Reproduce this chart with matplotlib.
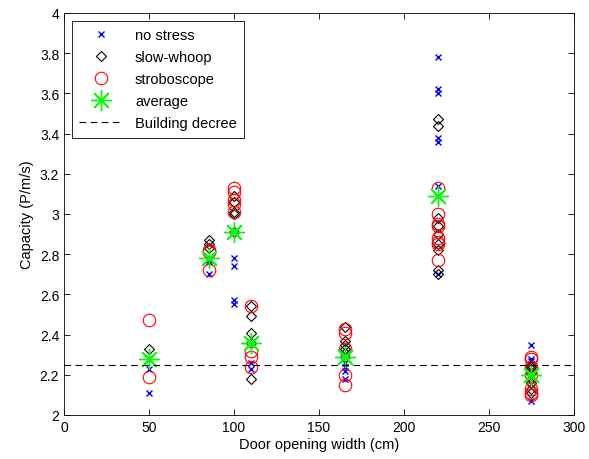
import numpy as np
import matplotlib.pyplot as plt
from matplotlib.ticker import FormatStrFormatter

plt.rcParams['font.family'] = ['Liberation Sans', 'DejaVu Sans']

# door widths (cm)
widths = [50, 85, 100, 110, 165, 220, 275]

# measured capacity (P/m/s) per width, one list per condition
no_stress = [
    [2.23, 2.11],
    [2.77, 2.76, 2.70],
    [2.78, 2.74, 2.57, 2.55],
    [2.26, 2.23],
    [2.26, 2.24, 2.22, 2.18],
    [3.78, 3.62, 3.60, 3.38, 3.36, 3.14, 2.70],
    [2.35, 2.28, 2.27, 2.07],
]
slow_whoop = [
    [2.33],
    [2.87, 2.85, 2.83],
    [3.09, 3.06, 3.01, 3.00, 2.91],
    [2.54, 2.49, 2.41, 2.36, 2.18],
    [2.44, 2.37, 2.35, 2.33, 2.31, 2.29],
    [3.47, 3.44, 2.98, 2.94, 2.90, 2.85, 2.82, 2.72, 2.70],
    [2.25, 2.24, 2.23, 2.21, 2.18, 2.16, 2.13, 2.11],
]
stroboscope = [
    [2.47, 2.19],
    [2.82, 2.81, 2.72],
    [3.13, 3.11, 3.07, 3.05, 3.01],
    [2.54, 2.32, 2.29, 2.24],
    [2.43, 2.41, 2.33, 2.20, 2.15],
    [3.13, 3.00, 2.95, 2.94, 2.88, 2.86, 2.85, 2.77],
    [2.29, 2.28, 2.24, 2.20, 2.13, 2.11, 2.10],
]
average = [2.28, 2.78, 2.91, 2.36, 2.29, 3.09, 2.20]

building_decree = 2.25


def flatten(groups):
    xs = []
    ys = []
    for w, vals in zip(widths, groups):
        for v in vals:
            xs.append(w)
            ys.append(v)
    return np.array(xs), np.array(ys)


fig = plt.figure(figsize=(5.89, 4.60), dpi=100)
ax = fig.add_axes([0.1087, 0.0957, 0.8658, 0.874])

x1, y1 = flatten(no_stress)
ax.plot(x1, y1, 'x', color='blue', markersize=4, markeredgewidth=1.0, label='no stress')

x2, y2 = flatten(slow_whoop)
ax.plot(x2, y2, 'D', color='black', markerfacecolor='none', markersize=5.5,
        markeredgewidth=0.8, label='slow-whoop')

x3, y3 = flatten(stroboscope)
ax.plot(x3, y3, 'o', color='red', markerfacecolor='none', markersize=9,
        markeredgewidth=0.8, label='stroboscope')

ax.plot(widths, average, linestyle='none', marker=(8, 2, 0), color='#00ff00',
        markersize=15, markeredgewidth=1.0, label='average')

ax.axhline(building_decree, color='black', linestyle=(0, (6, 4)), linewidth=0.8,
           label='Building decree')

ax.set_xlim(0, 300)
ax.set_ylim(2, 4)
ax.set_xticks(np.arange(0, 301, 50))
ax.set_yticks(np.arange(2, 4.01, 0.2))
ax.yaxis.set_major_formatter(FormatStrFormatter('%g'))
ax.tick_params(direction='in', top=True, right=True, labelsize=10, length=4, width=0.6)
for s in ax.spines.values():
    s.set_linewidth(0.6)

ax.set_xlabel('Door opening width (cm)', fontsize=10.5, labelpad=2)
ax.set_ylabel('Capacity (P/m/s)', fontsize=10.5, labelpad=4)

leg = ax.legend(loc='upper left', bbox_to_anchor=(0.016, 0.98), borderaxespad=0,
                fontsize=10.5, fancybox=False, framealpha=1, edgecolor='black',
                handlelength=3, labelspacing=0.55, borderpad=0.5)
leg.get_frame().set_linewidth(0.6)

fig.savefig('out.png', dpi=100)
